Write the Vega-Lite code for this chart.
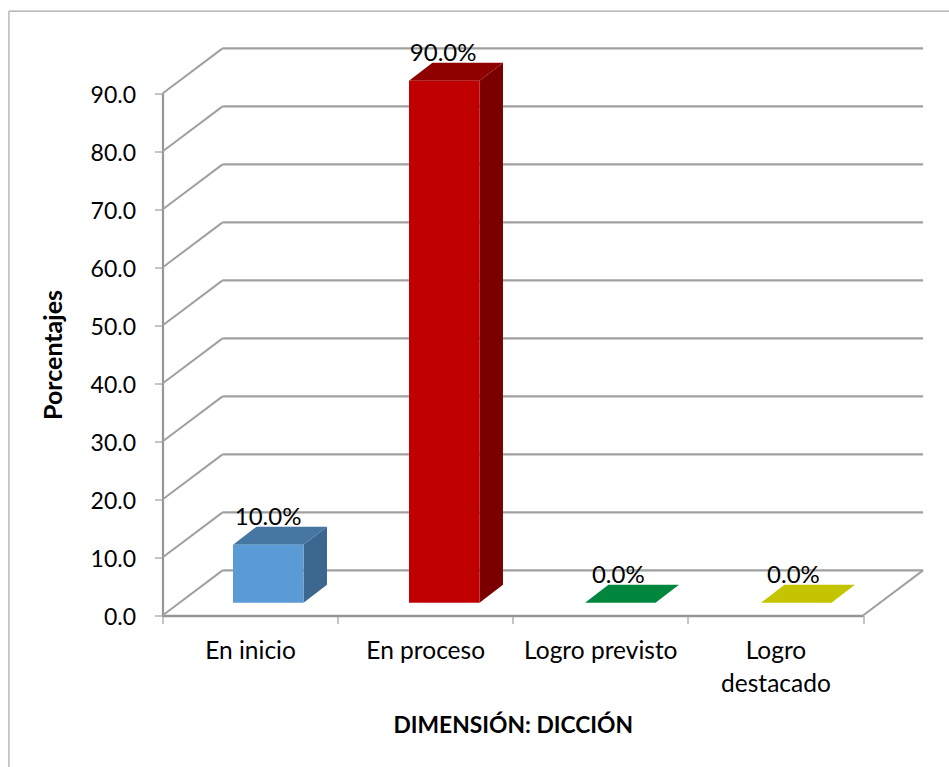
{
  "$schema": "https://vega.github.io/schema/vega-lite/v6.json",
  "width": 700.5,
  "height": 522,
  "autosize": "none",
  "padding": {"left": 162.5, "top": 93.5, "right": 86, "bottom": 151.5},
  "background": "white",
  "config": {"view": {"stroke": null}, "font": "Lato"},
  "datasets": {
    "barras": [
      {"categoria": "En inicio", "valor": 10.0},
      {"categoria": "En proceso", "valor": 90.0},
      {"categoria": "Logro previsto", "valor": 0.0},
      {"categoria": "Logro destacado", "valor": 0.0}
    ],
    "niveles": [
      {"nivel": 0}, {"nivel": 10}, {"nivel": 20}, {"nivel": 30}, {"nivel": 40},
      {"nivel": 50}, {"nivel": 60}, {"nivel": 70}, {"nivel": 80}, {"nivel": 90}
    ],
    "borde": [{"a": 0}]
  },
  "resolve": {"scale": {"x": "independent", "fill": "independent"}, "axis": {"x": "independent"}},
  "layer": [
    {
      "data": {"name": "borde"},
      "mark": {"type": "rule", "stroke": "#A6A6A6", "strokeWidth": 1.2},
      "encoding": {
        "x": {"datum": -0.877, "type": "quantitative", "scale": {"domain": [0, 4]}, "axis": null},
        "y": {"datum": -26.2, "type": "quantitative", "scale": {"domain": [0, 90], "nice": false, "zero": false}},
        "y2": {"datum": 104.2}
      }
    },
    {
      "data": {"name": "borde"},
      "mark": {"type": "rule", "stroke": "#A6A6A6", "strokeWidth": 1.2},
      "encoding": {
        "x": {"datum": -0.877, "type": "quantitative", "scale": {"domain": [0, 4]}, "axis": null},
        "x2": {"datum": 4.5},
        "y": {"datum": 104.2, "type": "quantitative"}
      }
    },
    {
      "data": {"name": "niveles"},
      "transform": [{"calculate": "datum.nivel + 7.78", "as": "fondo"}],
      "mark": {"type": "rule", "stroke": "#A0A0A0", "strokeWidth": 2.4},
      "encoding": {
        "x": {"datum": 0.343, "type": "quantitative", "scale": {"domain": [0, 4]}, "axis": null},
        "x2": {"datum": 4.343},
        "y": {"field": "fondo", "type": "quantitative"}
      }
    },
    {
      "data": {"name": "niveles"},
      "transform": [{"calculate": "datum.nivel + 7.78", "as": "fondo"}],
      "mark": {"type": "rule", "stroke": "#A0A0A0", "strokeWidth": 2},
      "encoding": {
        "x": {"datum": 0, "type": "quantitative", "scale": {"domain": [0, 4]}, "axis": null},
        "x2": {"datum": 0.343},
        "y": {"field": "nivel", "type": "quantitative"},
        "y2": {"field": "fondo"}
      }
    },
    {
      "data": {"name": "borde"},
      "mark": {"type": "rule", "stroke": "#A0A0A0", "strokeWidth": 2},
      "encoding": {
        "x": {"datum": 4, "type": "quantitative", "scale": {"domain": [0, 4]}, "axis": null},
        "x2": {"datum": 4.343},
        "y": {"datum": 0, "type": "quantitative"},
        "y2": {"datum": 7.78}
      }
    },
    {
      "data": {"name": "barras"},
      "transform": [
        {"calculate": "indexof(['En inicio','En proceso','Logro previsto','Logro destacado'], datum.categoria) * 1.005 + 0.4026", "as": "x0"},
        {"calculate": "[0, 1]", "as": "lado"},
        {"flatten": ["lado"]},
        {"calculate": "datum.x0 + 0.4026 + datum.lado * 0.134", "as": "sx"},
        {"calculate": "2.2 + datum.lado * 3.1", "as": "sy"},
        {"calculate": "datum.sy + datum.valor", "as": "sy2"}
      ],
      "mark": {"type": "area", "orient": "vertical"},
      "encoding": {
        "x": {"field": "sx", "type": "quantitative", "scale": {"domain": [0, 4]}, "axis": null},
        "y": {"field": "sy", "type": "quantitative"},
        "y2": {"field": "sy2"},
        "detail": {"field": "categoria"},
        "fill": {"field": "categoria", "type": "nominal", "legend": null,
          "scale": {"domain": ["En inicio", "En proceso", "Logro previsto", "Logro destacado"], "range": ["#3C678E", "#7A0000", "#006E32", "#A0A000"]}}
      }
    },
    {
      "data": {"name": "barras"},
      "transform": [
        {"calculate": "indexof(['En inicio','En proceso','Logro previsto','Logro destacado'], datum.categoria) * 1.005 + 0.4026", "as": "x0"},
        {"calculate": "[0, 1]", "as": "lado"},
        {"flatten": ["lado"]},
        {"calculate": "datum.x0 + datum.lado * 0.134", "as": "tx"},
        {"calculate": "datum.tx + 0.4026", "as": "tx2"},
        {"calculate": "2.2 + datum.valor + datum.lado * 3.1", "as": "ty"}
      ],
      "mark": {"type": "area", "orient": "horizontal"},
      "encoding": {
        "x": {"field": "tx", "type": "quantitative", "scale": {"domain": [0, 4]}, "axis": null},
        "x2": {"field": "tx2"},
        "y": {"field": "ty", "type": "quantitative"},
        "detail": {"field": "categoria"},
        "fill": {"field": "categoria", "type": "nominal", "legend": null,
          "scale": {"domain": ["En inicio", "En proceso", "Logro previsto", "Logro destacado"], "range": ["#4677A3", "#8F0000", "#00863D", "#C4C400"]}}
      }
    },
    {
      "data": {"name": "barras"},
      "transform": [
        {"calculate": "indexof(['En inicio','En proceso','Logro previsto','Logro destacado'], datum.categoria) * 1.005 + 0.4026", "as": "x0"},
        {"calculate": "datum.x0 + 0.4026", "as": "x1"},
        {"calculate": "2.2 + datum.valor", "as": "arriba"},
        {"calculate": "2.2", "as": "base"}
      ],
      "mark": {"type": "rect"},
      "encoding": {
        "x": {"field": "x0", "type": "quantitative", "scale": {"domain": [0, 4]}, "axis": null},
        "x2": {"field": "x1"},
        "y": {"field": "base", "type": "quantitative"},
        "y2": {"field": "arriba"},
        "fill": {"field": "categoria", "type": "nominal", "legend": null,
          "scale": {"domain": ["En inicio", "En proceso", "Logro previsto", "Logro destacado"], "range": ["#5B9BD5", "#C00000", "#00863D", "#C4C400"]}}
      }
    },
    {
      "data": {"name": "barras"},
      "transform": [{"calculate": "format(datum.valor, '.1f') + '%'", "as": "etiqueta"}],
      "mark": {"type": "text", "fontSize": 24, "dx": 18, "dy": -33, "baseline": "alphabetic", "align": "center", "color": "#000000"},
      "encoding": {
        "x": {
          "field": "categoria", "type": "nominal",
          "scale": {"type": "band", "domain": ["En inicio", "En proceso", "Logro previsto", "Logro destacado"], "paddingInner": 0, "paddingOuter": 0},
          "axis": {
            "title": "DIMENSIÓN: DICCIÓN",
            "titleFontSize": 22.8, "titleFontWeight": "bold", "titleColor": "#000000", "titlePadding": 18,
            "labelAngle": 0, "labelFontSize": 24.5, "labelColor": "#000000", "labelPadding": 16, "labelLineHeight": 33,
            "labelExpr": "datum.label == 'Logro destacado' ? ['Logro', 'destacado'] : datum.label",
            "labelLimit": 300,
            "tickBand": "extent", "tickSize": 8, "tickColor": "#8C8C8C", "tickWidth": 1,
            "domainColor": "#969696", "domainWidth": 2.6, "grid": false
          }
        },
        "y": {
          "field": "valor", "type": "quantitative",
          "scale": {"domain": [0, 90], "nice": false, "zero": false},
          "axis": {
            "title": "Porcentajes",
            "titleFontSize": 25, "titleFontWeight": "bold", "titleColor": "#000000", "titlePadding": 24,
            "values": [0, 10, 20, 30, 40, 50, 60, 70, 80, 90], "format": ".1f",
            "labelFontSize": 23, "labelColor": "#000000", "labelPadding": 19, "labelOffset": 2,
            "tickSize": 8, "tickColor": "#8C8C8C", "tickWidth": 1,
            "domainColor": "#969696", "domainWidth": 2.2, "grid": false
          }
        },
        "text": {"field": "etiqueta", "type": "nominal"}
      }
    }
  ]
}
